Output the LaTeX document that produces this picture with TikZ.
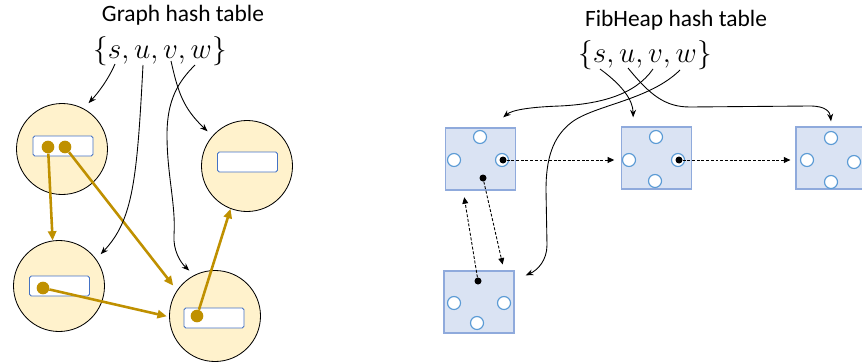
\documentclass[tikz,border=0pt]{standalone}
\usepackage{fontspec}
\setmainfont{Carlito}
\usepackage{tikz}
\usetikzlibrary{arrows.meta,positioning,calc}
\definecolor{nodefill}{HTML}{FFF2CC}
\definecolor{slotblue}{HTML}{4472C4}
\definecolor{gold}{HTML}{BF9000}
\definecolor{heapfill}{HTML}{DAE3F3}
\definecolor{heapline}{HTML}{8FAADC}
\definecolor{childline}{HTML}{5B9BD5}
\tikzset{
  gnode/.style    ={circle,draw,fill=nodefill,line width=0.7pt,minimum size=2.73cm,inner sep=0pt},
  gslot/.style    ={rectangle,rounded corners=1.5pt,draw=slotblue,fill=white,line width=0.8pt,minimum width=1.8cm,minimum height=0.6cm,inner sep=0pt},
  gdot/.style     ={circle,fill=gold,minimum size=0.38cm,inner sep=0pt},
  gedge/.style    ={gold,line width=2.2pt,-{Triangle[length=8pt,width=7pt]}},
  hashptr/.style  ={black,line width=0.75pt,-{Stealth[length=6.5pt,width=5pt]}},
  heapnode/.style ={rectangle,draw=heapline,fill=heapfill,line width=1.1pt,minimum width=2.1cm,minimum height=1.86cm,inner sep=0pt},
  childslot/.style={circle,draw=childline,fill=white,line width=1pt,minimum size=0.39cm,inner sep=0pt},
  ptrdot/.style   ={circle,fill=black,minimum size=0.21cm,inner sep=0pt},
  sibptr/.style   ={black,line width=0.75pt,dash pattern=on 2.5pt off 1.5pt,-{Triangle[length=5.5pt,width=5pt]}},
  title/.style    ={font=\fontsize{20}{23}\selectfont,inner sep=0pt},
  keyset/.style   ={font=\fontsize{23}{27}\selectfont,inner sep=0pt},
}
\begin{document}
\begin{tikzpicture}[x=0.03cm,y=-0.03cm]
  \useasboundingbox (0,0) rectangle (862,363);
  % graph hash table side
  \node[title]  (gtitle) at (183,15) {Graph hash table};
  \node[keyset] (gkeys)  at (160,51) {$\{s,u,v,w\}$};
  \foreach \name/\x/\y/\sx/\sy in {s/62/149/63/146, w/247/166/247.5/162, u/59/286/59.5/286, v/215/316/214/318}{
     \node[gnode] (g\name) at (\x,\y) {};
     \node[gslot] (gslot\name) at (\sx,\sy) {};
  }
  \node[gdot] (ds1) at (48,147) {};
  \node[gdot] (ds2) at (65,147) {};
  \node[gdot] (du)  at (43,288) {};
  \node[gdot] (dv)  at (197,316) {};
  \draw[gedge] (ds1) -- (gu.98);
  \draw[gedge,shorten >=1.8mm] (ds2) -- (gv.146);
  \draw[gedge,shorten >=0.7mm] (du) -- (gv.181);
  \draw[gedge] (dv) -- (gw.249);
  \coordinate (ks) at (115,64);
  \coordinate (ku) at (143,65);
  \coordinate (kv) at (171,61);
  \coordinate (kw) at (195,65);
  \draw[hashptr,shorten >=2.2mm] (ks) .. controls (108,80) and (98,93) .. (gs.62);
  \draw[hashptr,shorten >=2mm] (ku) .. controls (137,180) and (133,220) .. (gu.36);
  \draw[hashptr,shorten >=2mm] (kv) .. controls (178,92) and (183,108) .. (gw.139);
  \draw[hashptr,shorten >=2mm] (kw) .. controls (178,82) and (167,100) .. (167,135)
     .. controls (167,175) and (176,205) .. (174,235) .. controls (173,250) and (180,262) .. (gv.117);

  % fibheap hash table side
  \node[title]  (ftitle) at (676,20) {FibHeap hash table};
  \node[keyset] (fkeys)  at (645,55) {$\{s,u,v,w\}$};
  \foreach \name/\x/\y in {A/480.5/159, B/656.5/158, C/831/158, D/479/302}
     \node[heapnode] (h\name) at (\x,\y) {};
  \foreach \name/\x/\y in {At/480/137, Al/454/160, Ar/502/160,
                           Bt/656/137, Bl/629/160, Br/678/160, Bb/655/181,
                           Ct/831/138, Cl/807/160, Cr/854/162, Cb/831/182,
                           Dl/454/303, Dr/504/303, Db/477/323}
     \node[childslot] (\name) at (\x,\y) {};
  \node[ptrdot] (pA)  at (503,160) {};
  \node[ptrdot] (pAb) at (483,178) {};
  \node[ptrdot] (pB)  at (679,160) {};
  \node[ptrdot] (pDt) at (478,281) {};
  \draw[sibptr,shorten >=2mm]   (pA) -- (hB.west |- pA);
  \draw[sibptr,shorten >=1.5mm] (pB) -- (hC.west |- pB);
  \draw[sibptr,shorten >=1.8mm] (pAb) -- ([xshift=0.75cm]hD.north);
  \draw[sibptr,shorten >=2mm]   (pDt) -- ([xshift=-0.52cm]hA.south);
  \coordinate (fs) at (600,69);
  \coordinate (fu) at (628,68);
  \coordinate (fv) at (653,69);
  \coordinate (fw) at (680,70);
  \draw[hashptr] (fs) .. controls (622,85) and (633,100) .. ([xshift=-0.7cm,yshift=0.27cm]hB.north);
  \draw[hashptr] (fu) .. controls (650,95) and (665,107) .. (690,107) -- (810,106)
     .. controls (826,106) and (830,112) .. ([yshift=0.15cm]hC.north);
  \draw[hashptr] (fv) .. controls (635,95) and (600,104) .. (560,106)
     .. controls (530,107) and (512,110) .. ([xshift=0.68cm,yshift=0.3cm]hA.north);
  \draw[hashptr] (fw) .. controls (650,100) and (595,105) .. (572,122)
     .. controls (552,137) and (546,160) .. (546,190) -- (547,245)
     .. controls (547,260) and (538,270) .. ([xshift=0.33cm,yshift=-0.15cm]hD.north east);
\end{tikzpicture}
\end{document}
